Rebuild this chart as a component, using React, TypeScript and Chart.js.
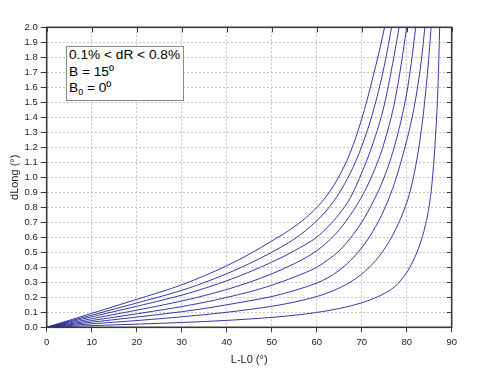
import React, { useEffect, useRef } from 'react';
import { Chart, registerables } from 'chart.js';

Chart.register(...registerables);

// ---- Data ----
const seriesLabels = ['dR = 0.1%', 'dR = 0.2%', 'dR = 0.3%', 'dR = 0.4%', 'dR = 0.5%', 'dR = 0.6%', 'dR = 0.7%', 'dR = 0.8%'];

const dR01X = [0, 10, 20, 30, 40, 50, 55, 60, 65, 70, 72.5, 75, 77.5, 80, 80.7, 82.6, 83.8, 84.6, 85.2, 85.6, 86.1, 86.5, 86.9, 87.1, 87.3, 87.45];
const dR01Y = [0, 0.011, 0.021, 0.032, 0.046, 0.066, 0.08, 0.099, 0.125, 0.163, 0.19, 0.225, 0.275, 0.365, 0.4, 0.524, 0.638, 0.742, 0.85, 0.954, 1.134, 1.322, 1.56, 1.75, 1.97, 2.15];

const dR02X = [0, 10, 20, 30, 40, 50, 55, 60, 62.5, 65, 67.5, 70, 72.5, 75, 77.5, 80, 81, 82, 83, 84, 85, 85.5, 85.8];
const dR02Y = [0, 0.023, 0.045, 0.07, 0.1, 0.14, 0.168, 0.205, 0.23, 0.262, 0.302, 0.355, 0.425, 0.52, 0.65, 0.83, 0.935, 1.075, 1.26, 1.505, 1.83, 2.03, 2.15];

const dR03X = [0, 10, 20, 30, 35, 40, 45, 50, 55, 60, 62.5, 65, 67.5, 70, 72.5, 75, 77.5, 80, 81, 82, 83, 83.9, 84.3];
const dR03Y = [0, 0.034, 0.068, 0.104, 0.125, 0.15, 0.176, 0.205, 0.245, 0.295, 0.33, 0.38, 0.445, 0.53, 0.64, 0.785, 0.98, 1.245, 1.37, 1.525, 1.72, 1.96, 2.1];

const dR04X = [0, 10, 20, 30, 35, 40, 45, 50, 55, 60, 62.5, 65, 67.5, 70, 72.5, 75, 77.5, 80, 81, 82, 82.4];
const dR04Y = [0, 0.045, 0.09, 0.138, 0.166, 0.199, 0.236, 0.28, 0.335, 0.4, 0.45, 0.51, 0.595, 0.7, 0.835, 1.0, 1.23, 1.56, 1.76, 2.0, 2.11];

const dR05X = [0, 10, 20, 30, 35, 40, 45, 50, 55, 57.5, 60, 62.5, 65, 67.5, 70, 72.5, 75, 77.5, 80, 80.45];
const dR05Y = [0, 0.057, 0.114, 0.175, 0.211, 0.252, 0.3, 0.356, 0.424, 0.463, 0.51, 0.572, 0.65, 0.75, 0.87, 1.025, 1.23, 1.53, 2.0, 2.1];

const dR06X = [0, 10, 20, 30, 35, 40, 45, 50, 52.5, 55, 57.5, 60, 62.5, 65, 67.5, 70, 72.5, 75, 77.5, 78.3, 78.75];
const dR06Y = [0, 0.07, 0.14, 0.214, 0.259, 0.31, 0.368, 0.434, 0.47, 0.51, 0.552, 0.6, 0.67, 0.755, 0.865, 1.03, 1.225, 1.48, 1.86, 2.0, 2.1];

const dR07X = [0, 10, 20, 30, 35, 40, 45, 50, 52.5, 55, 57.5, 60, 62.5, 65, 67.5, 70, 72.5, 75, 76.9, 77.2];
const dR07Y = [0, 0.081, 0.162, 0.246, 0.298, 0.357, 0.424, 0.5, 0.542, 0.588, 0.644, 0.71, 0.79, 0.895, 1.03, 1.205, 1.435, 1.74, 2.05, 2.11];

const dR08X = [0, 10, 20, 30, 35, 40, 45, 50, 52.5, 55, 57.5, 60, 62.5, 65, 67.5, 70, 72.5, 75, 75.7];
const dR08Y = [0, 0.093, 0.186, 0.283, 0.343, 0.41, 0.487, 0.575, 0.62, 0.67, 0.728, 0.798, 0.888, 1.008, 1.168, 1.388, 1.668, 1.988, 2.1];

const seriesX = [dR01X, dR02X, dR03X, dR04X, dR05X, dR06X, dR07X, dR08X];
const seriesY = [dR01Y, dR02Y, dR03Y, dR04Y, dR05Y, dR06Y, dR07Y, dR08Y];

const xMin = 0;
const xMax = 90;
const xStep = 10;
const yMin = 0;
const yMax = 2.0;
const yStep = 0.1;

const xTitle = 'L-L0 (°)';
const yTitle = 'dLong (°)';

const FONT = '"Liberation Sans", Arial, Helvetica, sans-serif';
const LINE_COLOR = '#23239c';
const AXIS_COLOR = '#3a3a3a';
const GRID_COLOR = '#c6c6c6';

const framePlugin = {
  id: 'frameAndInnerTicks',
  afterDatasetsDraw(chart: any) {
    const { ctx, chartArea: a, scales } = chart;
    ctx.save();
    ctx.strokeStyle = AXIS_COLOR;
    ctx.lineWidth = 1;
    const tickLen = 5;
    scales.x.ticks.forEach((t: any) => {
      const x = Math.round(scales.x.getPixelForValue(t.value)) + 0.5;
      ctx.beginPath();
      ctx.moveTo(x, a.top);
      ctx.lineTo(x, a.top + tickLen);
      ctx.stroke();
    });
    scales.y.ticks.forEach((t: any) => {
      const y = Math.round(scales.y.getPixelForValue(t.value)) + 0.5;
      ctx.beginPath();
      ctx.moveTo(a.right, y);
      ctx.lineTo(a.right - tickLen, y);
      ctx.stroke();
    });
    ctx.lineWidth = 1.6;
    ctx.strokeRect(a.left, a.top, a.right - a.left, a.bottom - a.top);
    ctx.restore();
  },
};

const isEdge = (v: number, lo: number, hi: number) => Math.abs(v - lo) < 1e-9 || Math.abs(v - hi) < 1e-9;

export default function App() {
  const canvasRef = useRef<HTMLCanvasElement | null>(null);

  useEffect(() => {
    const canvas = canvasRef.current;
    if (!canvas) return;
    const datasets = seriesX.map((xs, i) => ({
      label: seriesLabels[i],
      data: xs.map((x, j) => ({ x, y: seriesY[i][j] })),
      borderColor: LINE_COLOR,
      backgroundColor: LINE_COLOR,
      borderWidth: 0.9,
      pointRadius: 0,
      fill: false,
      cubicInterpolationMode: 'monotone' as const,
    }));

    const chart = new Chart(canvas, {
      type: 'line',
      data: { datasets },
      plugins: [framePlugin],
      options: {
        animation: false,
        responsive: false,
        maintainAspectRatio: false,
        layout: { padding: { top: 27.3, right: 30.3, left: 0, bottom: 0 } },
        plugins: { legend: { display: false }, tooltip: { enabled: false } },
        scales: {
          x: {
            type: 'linear',
            min: xMin,
            max: xMax,
            ticks: {
              stepSize: xStep,
              autoSkip: false,
              maxRotation: 0,
              padding: 4,
              color: '#222',
              font: { family: FONT, size: 9.5 },
            },
            grid: {
              color: (c: any) => (c.tick && isEdge(c.tick.value, xMin, xMax) ? 'rgba(0,0,0,0)' : GRID_COLOR),
              lineWidth: 1,
              tickLength: 5,
              tickColor: AXIS_COLOR,
            },
            border: { display: false, dash: [2, 2] },
            title: {
              display: true,
              text: xTitle,
              color: '#222',
              font: { family: FONT, size: 11 },
              padding: { top: 0, bottom: 2.5 },
            },
            afterFit: (s: any) => {
              s.height = 41.7;
            },
          },
          y: {
            type: 'linear',
            min: yMin,
            max: yMax,
            ticks: {
              stepSize: yStep,
              autoSkip: false,
              padding: 3,
              color: '#222',
              font: { family: FONT, size: 9.5 },
              callback: (v: any) => Number(v).toFixed(1),
            },
            grid: {
              color: (c: any) => (c.tick && isEdge(c.tick.value, yMin, yMax) ? 'rgba(0,0,0,0)' : GRID_COLOR),
              lineWidth: 1,
              tickLength: 6,
              tickColor: AXIS_COLOR,
            },
            border: { display: false, dash: [2, 2] },
            title: {
              display: true,
              text: yTitle,
              color: '#222',
              font: { family: FONT, size: 11 },
              padding: { top: 8.4, bottom: 0 },
            },
            afterFit: (s: any) => {
              s.width = 46.7;
            },
          },
        },
      },
    });
    return () => chart.destroy();
  }, []);

  return (
    <div style={{ position: 'absolute', left: 0, top: 0, width: 482, height: 369, background: '#fff' }}>
      <canvas ref={canvasRef} width={482} height={369} style={{ width: 482, height: 369, display: 'block' }} />
      <div
        style={{
          position: 'absolute',
          left: 66,
          top: 46,
          width: 114,
          height: 53,
          border: '1.3px solid #8a8a8a',
          background: '#fff',
          fontFamily: FONT,
          fontSize: 13.7,
          lineHeight: '16.5px',
          color: '#000',
          paddingLeft: 2,
          boxSizing: 'content-box',
          whiteSpace: 'nowrap',
        }}
      >
        <div>0.1% &lt; dR &lt; 0.8%</div>
        <div>B = 15º</div>
        <div>
          B<sub style={{ fontSize: 9, verticalAlign: -3, lineHeight: 0 }}>0</sub> = 0º
        </div>
      </div>
    </div>
  );
}
